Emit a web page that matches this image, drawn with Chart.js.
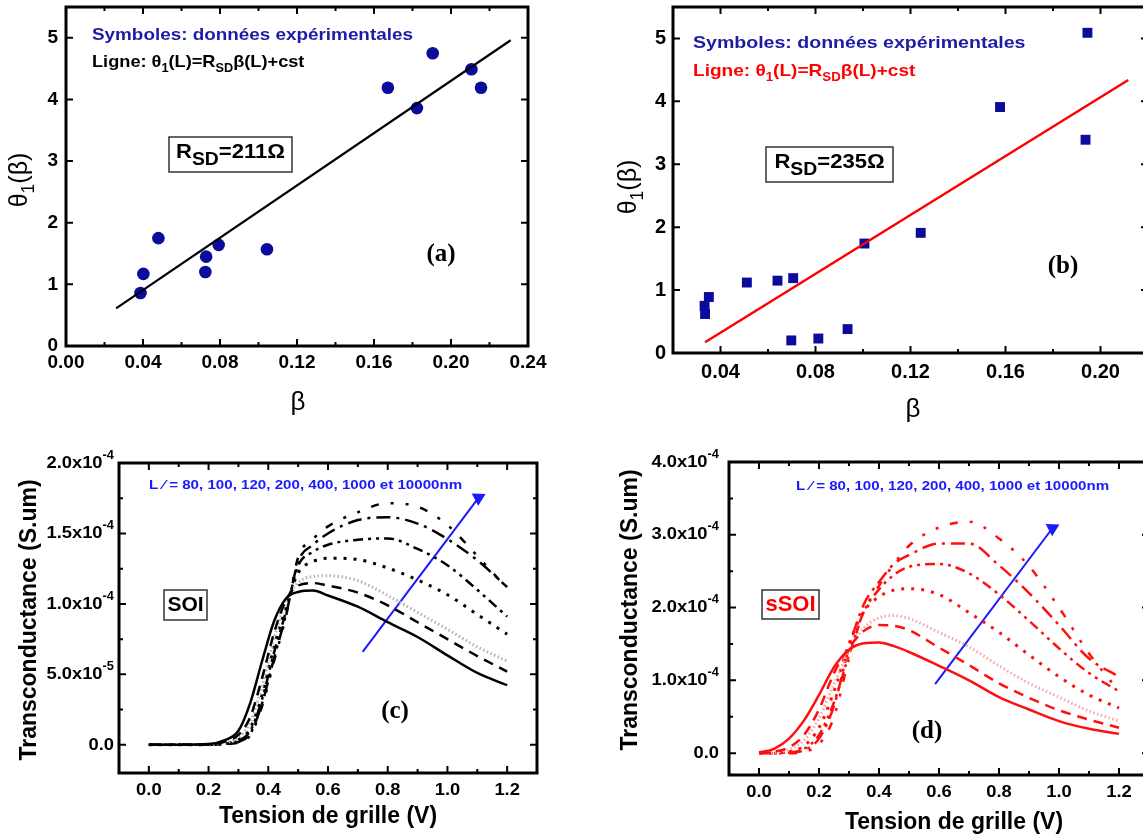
<!DOCTYPE html>
<html>
<head>
<meta charset="utf-8">
<script src="https://cdn.jsdelivr.net/npm/chart.js@4.4.0/dist/chart.umd.min.js"></script>
<style>
  html, body { margin: 0; padding: 0; background: #fff; overflow: hidden; width: 1143px; height: 839px; }
  canvas { position: absolute; left: 0; top: 0; }
</style>
</head>
<body>
<canvas id="chartA" width="1160" height="839"></canvas>
<canvas id="chartB" width="1160" height="839"></canvas>
<canvas id="chartC" width="1160" height="839"></canvas>
<canvas id="chartD" width="1160" height="839"></canvas>
<script>
// ---- (a) SOI : theta1 vs beta ----
const aBeta  = [0.0387, 0.0402, 0.048, 0.0728, 0.0724, 0.0793, 0.1044, 0.1672, 0.1823, 0.1905, 0.2106, 0.2156];
const aTheta = [0.86, 1.17, 1.75, 1.45, 1.20, 1.64, 1.57, 4.19, 3.86, 4.75, 4.49, 4.19];
const aFitBeta  = [0.026, 0.231];
const aFitTheta = [0.61, 4.96];

// ---- (b) sSOI : theta1 vs beta ----
const bBeta  = [0.0333, 0.0335, 0.0351, 0.0511, 0.064, 0.0706, 0.0698, 0.0812, 0.0935, 0.1006, 0.1243, 0.1577, 0.1937, 0.1945];
const bTheta = [0.75, 0.62, 0.89, 1.12, 1.15, 1.19, 0.20, 0.23, 0.38, 1.74, 1.91, 3.91, 3.39, 5.09];
const bFitBeta  = [0.0335, 0.2117];
const bFitTheta = [0.17, 4.34];

// ---- (c) SOI transconductance (units of 1e-4 S.um) ----
const lengths = ['80', '100', '120', '200', '400', '1000', '10000'];
const cVg      = [0, 0.1, 0.2, 0.25, 0.3, 0.34, 0.38, 0.42, 0.46, 0.5, 0.55, 0.6, 0.7, 0.8, 0.9, 1.0, 1.1, 1.2];
const cGm80    = [0, 0, 0.005, 0.03, 0.1, 0.3, 0.6, 0.88, 1.04, 1.085, 1.095, 1.06, 0.98, 0.87, 0.765, 0.635, 0.51, 0.423];
const cGm100   = [0, 0, 0.003, 0.02, 0.07, 0.2, 0.48, 0.8, 1.03, 1.13, 1.148, 1.13, 1.08, 0.99, 0.87, 0.75, 0.63, 0.52];
const cGm120   = [0, 0, 0.002, 0.015, 0.05, 0.16, 0.42, 0.76, 1.02, 1.15, 1.195, 1.2, 1.165, 1.06, 0.94, 0.82, 0.695, 0.595];
const cGm200   = [0, 0, 0.001, 0.01, 0.035, 0.12, 0.36, 0.7, 0.98, 1.22, 1.3, 1.325, 1.315, 1.255, 1.17, 1.065, 0.925, 0.785];
const cGm400   = [0, 0, 0.001, 0.008, 0.03, 0.1, 0.33, 0.66, 0.95, 1.27, 1.37, 1.42, 1.455, 1.465, 1.39, 1.275, 1.1, 0.91];
const cGm1000  = [0, 0, 0, 0.005, 0.02, 0.08, 0.3, 0.62, 0.93, 1.3, 1.42, 1.5, 1.595, 1.615, 1.57, 1.46, 1.31, 1.12];
const cGm10000 = [0, 0, 0, 0.004, 0.015, 0.07, 0.28, 0.6, 0.92, 1.33, 1.46, 1.55, 1.65, 1.715, 1.69, 1.56, 1.34, 1.11];
const cArrowVg = [0.716, 1.104];
const cArrowGm = [0.659, 1.753];

// ---- (d) sSOI transconductance (units of 1e-4 S.um) ----
const dVg      = [0, 0.05, 0.1, 0.15, 0.2, 0.25, 0.3, 0.35, 0.4, 0.45, 0.5, 0.6, 0.7, 0.8, 0.9, 1.0, 1.1, 1.2];
const dGm80    = [0.01, 0.06, 0.2, 0.45, 0.8, 1.18, 1.42, 1.51, 1.52, 1.47, 1.39, 1.2, 1.0, 0.77, 0.6, 0.44, 0.335, 0.265];
const dGm100   = [0, 0.02, 0.08, 0.25, 0.6, 1.1, 1.45, 1.68, 1.76, 1.75, 1.69, 1.45, 1.21, 0.96, 0.76, 0.59, 0.46, 0.35];
const dGm120   = [0, 0.01, 0.05, 0.18, 0.48, 0.95, 1.4, 1.72, 1.86, 1.89, 1.85, 1.66, 1.46, 1.2, 0.96, 0.77, 0.58, 0.44];
const dGm200   = [0, 0.005, 0.02, 0.1, 0.35, 0.85, 1.5, 1.95, 2.15, 2.24, 2.26, 2.18, 1.93, 1.66, 1.35, 1.05, 0.8, 0.62];
const dGm400   = [0, 0.003, 0.01, 0.06, 0.25, 0.7, 1.35, 1.95, 2.25, 2.45, 2.56, 2.6, 2.47, 2.18, 1.82, 1.44, 1.1, 0.85];
const dGm1000  = [0, 0, 0.005, 0.04, 0.2, 0.65, 1.45, 2.05, 2.35, 2.6, 2.72, 2.88, 2.88, 2.58, 2.2, 1.76, 1.3, 1.05];
const dGm10000 = [0, 0, 0, 0.02, 0.12, 0.5, 1.3, 1.95, 2.3, 2.6, 2.85, 3.1, 3.18, 2.95, 2.57, 2.0, 1.37, 0.85];
const dArrowVg = [0.587, 0.978];
const dArrowGm = [0.948, 3.09];

// ---- tick values and labels ----
const aXTicks = [0, 0.04, 0.08, 0.12, 0.16, 0.20, 0.24];
const aXMinor = [0.02, 0.06, 0.10, 0.14, 0.18, 0.22];
const abYTicks = [0, 1, 2, 3, 4, 5];
const bXTicks = [0.04, 0.08, 0.12, 0.16, 0.20];
const bXMinor = [0.06, 0.10, 0.14, 0.18];
const vgTicks = [0, 0.2, 0.4, 0.6, 0.8, 1.0, 1.2];
const vgMinor = [0.1, 0.3, 0.5, 0.7, 0.9, 1.1];
const cYTicks = [0, 0.5e-4, 1e-4, 1.5e-4, 2e-4];
const cYLabels = [['0.0'], ['5.0x10', ['-5', 'sup']], ['1.0x10', ['-4', 'sup']], ['1.5x10', ['-4', 'sup']], ['2.0x10', ['-4', 'sup']]];
const cYMinor = [0.25e-4, 0.75e-4, 1.25e-4, 1.75e-4];
const dYTicks = [0, 1e-4, 2e-4, 3e-4, 4e-4];
const dYLabels = [['0.0'], ['1.0x10', ['-4', 'sup']], ['2.0x10', ['-4', 'sup']], ['3.0x10', ['-4', 'sup']], ['4.0x10', ['-4', 'sup']]];
const dYMinor = [0.5e-4, 1.5e-4, 2.5e-4, 3.5e-4];

const SANS = "'Liberation Sans', Arial, sans-serif";
const SERIF = "'Liberation Serif', 'Times New Roman', serif";
const CANVAS_W = 1160, CANVAS_H = 839;

// text with sub/superscripts; parts: 'txt' or ['txt','sub'|'sup']
function drawRich(ctx, parts, x, y, font, align) {
  const list = typeof parts === 'string' ? [parts] : parts;
  const segs = list.map(p => Array.isArray(p) ? { t: p[0], m: p[1] } : { t: p, m: '' });
  const k = font.sx || 1;
  const sub = font.subScale || 0.7;
  const fontOf = m => `${font.weight || 'normal'} ${m ? font.size * sub : font.size}px ${font.family || SANS}`;
  let w = 0;
  segs.forEach(s => { ctx.font = fontOf(s.m); s.w = ctx.measureText(s.t).width; w += s.w; });
  let cx = align === 'center' ? -w / 2 : align === 'right' ? -w : 0;
  ctx.save();
  ctx.translate(x, y);
  ctx.scale(k, 1);
  ctx.fillStyle = font.color || '#000';
  ctx.textAlign = 'left';
  ctx.textBaseline = 'middle';
  segs.forEach(s => {
    ctx.font = fontOf(s.m);
    const dy = s.m === 'sub' ? font.size * 0.38 : s.m === 'sup' ? -font.size * 0.45 : 0;
    ctx.fillText(s.t, cx, dy);
    cx += s.w;
  });
  ctx.restore();
}

// frame, inward ticks, tick labels, titles and notes
function axesPlugin(f) {
  return {
    id: 'axes' + f.name,
    afterDatasetsDraw(chart) {
      const { ctx, chartArea: a } = chart;
      const sx = chart.scales.x, sy = chart.scales.y;
      ctx.save();
      ctx.strokeStyle = '#000';
      ctx.lineWidth = 2;
      const xt = (vals, len) => vals.forEach(v => {
        const p = sx.getPixelForValue(v);
        ctx.beginPath();
        ctx.moveTo(p, a.bottom); ctx.lineTo(p, a.bottom - len);
        ctx.moveTo(p, a.top); ctx.lineTo(p, a.top + len);
        ctx.stroke();
      });
      const yt = (vals, len) => vals.forEach(v => {
        const p = sy.getPixelForValue(v);
        ctx.beginPath();
        ctx.moveTo(a.left, p); ctx.lineTo(a.left + len, p);
        ctx.moveTo(a.right, p); ctx.lineTo(a.right - len, p);
        ctx.stroke();
      });
      xt(f.xMajor, 7); xt(f.xMinor, 4);
      yt(f.yMajor, 7); yt(f.yMinor, 4);
      ctx.lineWidth = 3;
      ctx.strokeRect(a.left, a.top, a.right - a.left, a.bottom - a.top);

      f.xMajor.forEach((v, i) => drawRich(ctx, f.xLabels[i], sx.getPixelForValue(v), a.bottom + f.xGap, f.tickFont, 'center'));
      f.yMajor.forEach((v, i) => drawRich(ctx, f.yLabels[i], a.left - f.yGap, sy.getPixelForValue(v), f.tickFont, 'right'));

      drawRich(ctx, f.xTitle.parts, f.xTitle.x, f.xTitle.y, f.xTitle.font, 'center');
      ctx.save();
      ctx.translate(f.yTitle.x, f.yTitle.y);
      ctx.rotate(-Math.PI / 2);
      drawRich(ctx, f.yTitle.parts, 0, 0, f.yTitle.font, 'center');
      ctx.restore();

      f.notes.forEach(n => {
        if (n.box) {
          ctx.lineWidth = 1.5;
          ctx.strokeStyle = '#333';
          ctx.strokeRect(n.box[0], n.box[1], n.box[2], n.box[3]);
        }
        drawRich(ctx, n.parts, n.x, n.y, n.font, n.align || 'left');
      });
      ctx.restore();
    }
  };
}

function makeChart(id, area, xr, yr, datasets, frame) {
  return new Chart(document.getElementById(id), {
    type: 'line',
    data: { datasets },
    options: {
      responsive: false,
      animation: false,
      devicePixelRatio: 1,
      events: [],
      layout: { padding: { left: area.left, top: area.top, right: CANVAS_W - area.right, bottom: CANVAS_H - area.bottom } },
      scales: {
        x: { type: 'linear', min: xr[0], max: xr[1], display: false },
        y: { type: 'linear', min: yr[0], max: yr[1], display: false }
      },
      plugins: { legend: { display: false }, tooltip: { enabled: false } }
    },
    plugins: [axesPlugin(frame)]
  });
}

const pts = (xs, ys, k = 1) => xs.map((x, i) => ({ x, y: ys[i] * k }));

// ---------- (a) ----------
makeChart('chartA', { left: 66, top: 7, right: 528, bottom: 346 }, [0, 0.24], [0, 5.5], [
  { data: pts(aFitBeta, aFitTheta), borderColor: '#000', borderWidth: 2.2, pointRadius: 0, showLine: true },
  { data: pts(aBeta, aTheta), showLine: false, pointStyle: 'circle', pointRadius: 6.3,
    backgroundColor: '#0b0b9c', borderColor: '#0b0b9c', borderWidth: 0 }
], {
  name: 'A',
  xMajor: aXTicks, xLabels: aXTicks.map(v => v.toFixed(2)), xMinor: aXMinor,
  yMajor: abYTicks, yLabels: abYTicks.map(String), yMinor: [],
  tickFont: { size: 19, weight: 'bold' }, xGap: 17, yGap: 8,
  xTitle: { parts: 'β', x: 298, y: 403, font: { size: 26 } },
  yTitle: { parts: ['θ', ['1', 'sub'], '(β)'], x: 20, y: 180, font: { size: 25 } },
  notes: [
    { parts: 'Symboles: données expérimentales', x: 92, y: 35, font: { size: 17, weight: 'bold', color: '#1b1ba5', sx: 1.11 } },
    { parts: ['Ligne: θ', ['1', 'sub'], '(L)=R', ['SD', 'sub'], 'β(L)+cst'], x: 92, y: 62, font: { size: 17, weight: 'bold', color: '#000', sx: 1.07 } },
    { box: [169, 137, 123, 35], parts: ['R', ['SD', 'sub'], '=211Ω'], x: 230.5, y: 152, align: 'center', font: { size: 21, weight: 'bold', sx: 1.05, subScale: 0.88 } },
    { parts: '(a)', x: 441, y: 255, align: 'center', font: { size: 25, weight: 'bold', family: SERIF } }
  ]
});

// ---------- (b) ----------
makeChart('chartB', { left: 673, top: 6, right: 1148, bottom: 353 }, [0.02, 0.22], [0, 5.5], [
  { data: pts(bFitBeta, bFitTheta), borderColor: '#ff0000', borderWidth: 2.5, pointRadius: 0, showLine: true },
  { data: pts(bBeta, bTheta), showLine: false, pointStyle: 'rect', pointRadius: 7,
    backgroundColor: '#0b0b9c', borderColor: '#0b0b9c', borderWidth: 0 }
], {
  name: 'B',
  xMajor: bXTicks, xLabels: bXTicks.map(v => v.toFixed(2)), xMinor: bXMinor,
  yMajor: abYTicks, yLabels: abYTicks.map(String), yMinor: [],
  tickFont: { size: 20, weight: 'bold' }, xGap: 19, yGap: 7,
  xTitle: { parts: 'β', x: 913, y: 410, font: { size: 26 } },
  yTitle: { parts: ['θ', ['1', 'sub'], '(β)'], x: 629, y: 187, font: { size: 25 } },
  notes: [
    { parts: 'Symboles: données expérimentales', x: 693, y: 43, font: { size: 17, weight: 'bold', color: '#1b1ba5', sx: 1.15 } },
    { parts: ['Ligne: θ', ['1', 'sub'], '(L)=R', ['SD', 'sub'], 'β(L)+cst'], x: 693, y: 71, font: { size: 17, weight: 'bold', color: '#ff0000', sx: 1.12 } },
    { box: [766, 147, 127, 35], parts: ['R', ['SD', 'sub'], '=235Ω'], x: 829.5, y: 162, align: 'center', font: { size: 21, weight: 'bold', sx: 1.05, subScale: 0.88 } },
    { parts: '(b)', x: 1063, y: 267, align: 'center', font: { size: 25, weight: 'bold', family: SERIF } }
  ]
});

// ---------- (c) and (d) curves ----------
const styles = [
  { dash: [], width: 2.5 },
  { dash: [10, 7], width: 2.5 },
  { dash: [1.5, 2.5], width: 3, light: true },
  { dash: [3, 7], width: 3 },
  { dash: [10, 5, 3, 5, 3, 5], width: 2.5 },
  { dash: [14, 6, 3, 6], width: 2.5 },
  { dash: [3, 12, 3, 12, 8, 12], width: 2.5 }
];
function curveSets(vg, series, color, light) {
  return series.map((gm, i) => ({
    label: 'L=' + lengths[i] + 'nm',
    data: pts(vg, gm, 1e-4),
    borderColor: styles[i].light ? light : color,
    borderWidth: styles[i].width,
    borderDash: styles[i].dash,
    pointRadius: 0,
    cubicInterpolationMode: 'monotone'
  }));
}
function arrowSet(xs, ys, rot) {
  return {
    data: pts(xs, ys, 1e-4), borderColor: '#1a1aff', backgroundColor: '#1a1aff', borderWidth: 2,
    pointStyle: 'triangle', pointRadius: [0, 8], pointRotation: [0, rot], pointBorderWidth: 0
  };
}
const lText = 'L ⁄ = 80, 100, 120, 200, 400, 1000 et 10000nm';

// ---------- (c) ----------
makeChart('chartC', { left: 119, top: 463, right: 537, bottom: 773 }, [-0.1, 1.3], [-0.2e-4, 2e-4], [
  ...curveSets(cVg, [cGm80, cGm100, cGm120, cGm200, cGm400, cGm1000, cGm10000], '#000', '#b4b4b4'),
  arrowSet(cArrowVg, cArrowGm, 62)
], {
  name: 'C',
  xMajor: vgTicks, xLabels: vgTicks.map(v => v.toFixed(1)), xMinor: vgMinor,
  yMajor: cYTicks, yLabels: cYLabels, yMinor: cYMinor,
  tickFont: { size: 17, weight: 'bold', sx: 1.08 }, xGap: 17, yGap: 5,
  xTitle: { parts: 'Tension de grille (V)', x: 328, y: 817, font: { size: 23, weight: 'bold' } },
  yTitle: { parts: 'Transconductance (S.um)', x: 30, y: 620, font: { size: 23, weight: 'bold' } },
  notes: [
    { parts: lText, x: 149, y: 485, font: { size: 13.5, weight: 'bold', color: '#1a1aff', sx: 1.12 } },
    { box: [164, 590, 43, 30], parts: 'SOI', x: 185.5, y: 605, align: 'center', font: { size: 21, weight: 'bold' } },
    { parts: '(c)', x: 395, y: 712, align: 'center', font: { size: 25, weight: 'bold', family: SERIF } }
  ]
});

// ---------- (d) ----------
makeChart('chartD', { left: 729, top: 462, right: 1149, bottom: 775 }, [-0.1, 1.3], [-0.3e-4, 4e-4], [
  ...curveSets(dVg, [dGm80, dGm100, dGm120, dGm200, dGm400, dGm1000, dGm10000], '#ff1010', '#f6a8a8'),
  arrowSet(dArrowVg, dArrowGm, 62)
], {
  name: 'D',
  xMajor: vgTicks, xLabels: vgTicks.map(v => v.toFixed(1)), xMinor: vgMinor,
  yMajor: dYTicks, yLabels: dYLabels, yMinor: dYMinor,
  tickFont: { size: 17, weight: 'bold', sx: 1.08 }, xGap: 17, yGap: 10,
  xTitle: { parts: 'Tension de grille (V)', x: 954, y: 823, font: { size: 23, weight: 'bold' } },
  yTitle: { parts: 'Transconductance (S.um)', x: 631, y: 610, font: { size: 23, weight: 'bold' } },
  notes: [
    { parts: lText, x: 796, y: 486, font: { size: 13.5, weight: 'bold', color: '#1a1aff', sx: 1.12 } },
    { box: [762, 590, 57, 29], parts: 'sSOI', x: 790.5, y: 604.5, align: 'center', font: { size: 22, weight: 'bold', color: '#ff0000' } },
    { parts: '(d)', x: 927, y: 732, align: 'center', font: { size: 25, weight: 'bold', family: SERIF } }
  ]
});
</script>
</body>
</html>
